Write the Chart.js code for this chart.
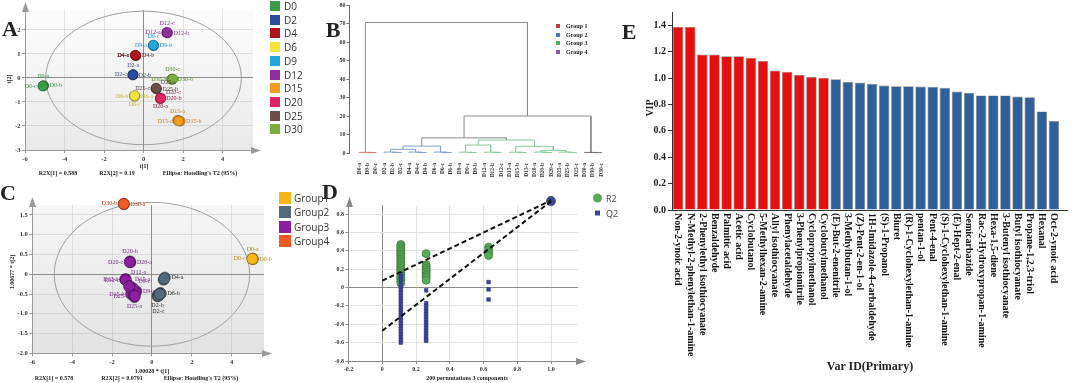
<!DOCTYPE html>
<html><head><meta charset="utf-8">
<script src="https://cdn.jsdelivr.net/npm/chart.js@4.4.1/dist/chart.umd.min.js"></script>
<style>
html,body{margin:0;padding:0;background:#fff;}
#wrap{position:relative;width:1080px;height:383px;overflow:hidden;}
canvas{position:absolute;}
.t{position:absolute;white-space:nowrap;font-family:'Liberation Serif','Times New Roman',serif;font-weight:bold;color:#222;line-height:1;transform:translate(-50%,-50%);}
.r{transform:translate(-50%,-50%) rotate(-90deg);}
.tl{position:absolute;white-space:nowrap;font-family:'Liberation Serif','Times New Roman',serif;font-weight:bold;color:#222;line-height:1;transform:translateY(-50%);}
.s{position:absolute;white-space:nowrap;font-family:'Open Sans','Noto Sans',sans-serif;color:#333;line-height:1;transform:translateY(-50%);}
.sq{position:absolute;transform:translateY(-50%);}
</style></head><body><div id="wrap">
<canvas id="cA" width="262" height="185" style="left:0px;top:0px"></canvas>
<canvas id="cB" width="300" height="190" style="left:310px;top:0px"></canvas>
<canvas id="cC" width="278" height="195" style="left:0px;top:188px"></canvas>
<canvas id="cD" width="272" height="195" style="left:318px;top:188px"></canvas>
<canvas id="cE" width="460" height="383" style="left:620px;top:0px"></canvas>

<div class="t" style="left:10px;top:29px;font-size:22px">A</div>
<div class="t r" style="left:9px;top:79px;font-size:6px">t[2]</div>
<div class="t" style="left:144px;top:166px;font-size:6px">t[1]</div>
<div class="t" style="left:58px;top:173px;font-size:6px">R2X[1] = 0.588</div>
<div class="t" style="left:117px;top:173px;font-size:6px">R2X[2] = 0.19</div>
<div class="t" style="left:200px;top:173px;font-size:6px">Ellipse: Hotelling's T2 (95%)</div>

<div class="t" style="left:333px;top:30px;font-size:22px">B</div>

<div class="t" style="left:8px;top:193px;font-size:22px">C</div>
<div class="t r" style="left:12px;top:272px;font-size:6px">1.00677 * t[2]</div>
<div class="t" style="left:152px;top:371px;font-size:6px">1.00028 * t[1]</div>
<div class="t" style="left:54px;top:378px;font-size:6px">R2X[1] = 0.578</div>
<div class="t" style="left:122px;top:378px;font-size:6px">R2X[2] = 0.0791</div>
<div class="t" style="left:201px;top:378px;font-size:6px">Ellipse: Hotelling's T2 (95%)</div>

<div class="t" style="left:330px;top:192px;font-size:22px">D</div>
<div class="t" style="left:467px;top:378px;font-size:6px">200 permutations 3 components</div>

<div class="t" style="left:629px;top:32px;font-size:22px">E</div>
<div class="t r" style="left:650px;top:108px;font-size:10px">VIP</div>
<div class="t" style="left:870px;top:366px;font-size:12px">Var ID(Primary)</div>
</div>
<script>
const serif = "'Liberation Serif','Times New Roman',serif";

// ---------- Panel A : PCA scores ----------
const groupsA = ['D0','D2','D4','D6','D9','D12','D15','D20','D25','D30'];
const replicates = ['a','b','c'];
const t1A = [[-5.08,-5.05,-5.10],[-0.52,-0.55,-0.54],[-0.42,-0.38,-0.41],[-0.43,-0.47,-0.45],[0.48,0.52,0.50],
             [1.17,1.22,1.19],[1.72,1.85,1.78],[0.86,0.84,0.88],[0.62,0.66,0.64],[1.45,1.42,1.48]];
const t2A = [[-0.33,-0.32,-0.34],[0.14,0.12,0.13],[0.94,0.93,0.95],[-0.75,-0.76,-0.74],[1.35,1.34,1.37],
             [1.88,1.87,1.90],[-1.76,-1.80,-1.79],[-0.83,-0.87,-0.85],[-0.44,-0.46,-0.42],[-0.05,-0.06,-0.04]];
const ellipseA = [4.95, 2.78];

// ---------- Panel B : dendrogram ----------
const leafNames = ['D0-a','D0-b','D0-c','D2-a','D2-b','D2-c','D4-a','D4-c','D4-b','D6-a','D6-c','D6-b',
  'D9-a','D9-c','D9-b','D12-a','D12-b','D12-c','D15-a','D15-b','D15-c','D20-a','D20-b','D20-c',
  'D25-a','D25-b','D25-c','D30-a','D30-b','D30-c'];
const leafGroup = [1,1,1,2,2,2,2,2,2,2,2,2,3,3,3,3,3,3,3,3,3,3,3,3,3,3,3,4,4,4];
// [childA, childB, height] ; children < 30 are leaves, others are earlier merges (30 + k)
const merges = [[1,2,0.25],[0,30,0.35],[4,5,0.3],[3,32,0.5],[7,8,0.3],[6,34,0.5],[10,11,0.3],[9,36,0.5],
  [33,35,2.0],[38,37,3.75],[13,14,0.3],[12,40,0.45],[16,17,0.3],[15,42,0.45],[41,43,4.3],
  [19,20,0.3],[18,45,0.45],[22,23,0.3],[21,47,0.5],[25,26,0.3],[24,49,0.5],[48,50,1.4],[46,51,3.6],
  [44,52,7.0],[39,53,8.2],[28,29,0.2],[27,55,0.3],[54,56,20.0],[31,57,70.5]];
const groupNamesB = ['Group 1','Group 2','Group 3','Group 4'];

// ---------- Panel C : PCA scores (grouped) ----------
const groupNamesC = ['Group1','Group2','Group3','Group4'];
const samplesC = ['D0-a','D0-b','D0-c','D2-a','D2-b','D2-c','D4-a','D4-b','D4-c','D6-a','D6-b','D6-c',
  'D9-a','D9-b','D9-c','D12-a','D12-b','D12-c','D15-a','D15-b','D15-c','D20-a','D20-b','D20-c',
  'D25-a','D25-b','D25-c','D30-a','D30-b','D30-c'];
const t1C = [5.05,5.07,5.03, 0.30,0.28,0.32, 0.65,0.58,0.62, 0.42,0.45,0.38, -0.78,-0.82,-0.95,
  -1.32,-1.35,-1.30, -1.12,-1.05,-1.15, -1.08,-1.10,-1.12, -0.88,-0.90,-0.85, -1.40,-1.42,-1.41];
const t2C = [0.40,0.38,0.39, -0.52,-0.56,-0.55, -0.08,-0.14,-0.11, -0.47,-0.49,-0.50, -0.43,-0.45,-0.35,
  -0.12,-0.13,-0.15, -0.29,-0.50,-0.31, 0.30,0.33,0.31, -0.58,-0.54,-0.55, 1.77,1.79,1.78];
const groupC = [1,1,1, 2,2,2, 2,2,2, 2,2,2, 3,3,3, 3,3,3, 3,3,3, 3,3,3, 3,3,3, 4,4,4];
const ellipseC = [4.9, 1.82];

// ---------- Panel D : permutation test ----------
const permCorr = [0.11, 0.26, 0.63, 1];
const r2Perm = [[0.47,0.45,0.43,0.41,0.39,0.37,0.35,0.33,0.31,0.29,0.27,0.25,0.23,0.21,0.19,0.17,0.15,0.13,0.11,0.09,0.07,0.05],
                [0.37,0.25,0.23,0.21,0.19,0.17,0.15,0.13,0.11,0.08],
                [0.44,0.41,0.38,0.35],
                [0.95]];
const q2Perm = [[0.15,0.12,0.09,0.06,0.03,0.0,-0.03,-0.06,-0.09,-0.12,-0.15,-0.18,-0.21,-0.24,-0.27,-0.30,-0.33,-0.36,-0.39,-0.42,-0.45,-0.48,-0.51,-0.54,-0.57,-0.60],
                [-0.03,-0.17,-0.20,-0.23,-0.26,-0.29,-0.32,-0.35,-0.38,-0.41,-0.44,-0.47,-0.50,-0.53,-0.56,-0.58],
                [0.06,-0.02,-0.13],
                [0.94]];
const r2Fit = [0.075, 0.95];   // intercept at 0, value at 1
const q2Fit = [-0.47, 0.94];

// ---------- Panel E : VIP ----------
const vipNames = ['Non-2-ynoic acid','N-Methyl-2-phenylethan-1-amine','2-Phenylethyl isothiocyanate','Benzaldehyde',
  'Palmitic acid','Acetic acid','Cyclobutanol','5-Methylhexan-2-amine','Allyl isothiocyanate','Phenylacetaldehyde',
  '3-Phenylpropionitrile','Cyclopropylmethanol','Cyclobutylmethanol','(E)-But-2-enenitrile','3-Methylbutan-1-ol',
  '(Z)-Pent-2-en-1-ol','1H-Imidazole-4-carbaldehyde','(S)-1-Propanol','Biuret','(R)-1-Cyclohexylethan-1-amine',
  'pentan-1-ol','Pent-4-enal','(S)-1-Cyclohexylethan-1-amine','(E)-Hept-2-enal','Semicarbazide',
  'Rac-2-Hydroxypropan-1-amine','Hexa-1,5-diene','3-Butenyl isothiocyanate','Butyl isothiocyanate',
  'Propane-1,2,3-triol','Hexanal','Oct-2-ynoic acid'];
const vipValues = [1.387,1.387,1.178,1.178,1.165,1.165,1.153,1.128,1.057,1.047,1.024,1.007,1.001,0.991,0.969,0.966,
  0.956,0.943,0.938,0.938,0.936,0.933,0.926,0.898,0.888,0.868,0.868,0.868,0.860,0.855,0.747,0.674];

// ---------- styles ----------
const colorsA = ['#3c9b47','#2d4b9e','#b0141c','#f2e43a','#25a6df','#8e2ca2','#f39a1f','#de2461','#6b4f46','#7cad3c'];
const textColorsA = ['#3a8a45','#3a4f8a','#4a1010','#c9b72a','#2a8fc0','#7a2a8a','#c77a1a','#8a2040','#4a3a33','#5d8a2c'];
const placeA = {'D0-a':'t','D0-b':'r','D0-c':'l','D2-a':'t','D2-b':'r','D2-c':'l','D4-a':'l','D4-b':'r','D4-c':'l',
  'D6-a':'r','D6-b':'l','D6-c':'b','D9-a':'l','D9-b':'r','D9-c':'t','D12-a':'l','D12-b':'r','D12-c':'t',
  'D15-a':'t','D15-b':'r','D15-c':'l','D20-a':'b','D20-b':'r','D20-c':'tr','D25-a':'tr','D25-b':'r','D25-c':'l',
  'D30-a':'l','D30-b':'r','D30-c':'t'};
const colorsB = ['#c23b3b','#4a78b0','#4daa5a','#7d5ca6'];
const linkColorsB = ['#e07070','#7f9fd6','#86c99a','#707070'];
const colorsC = ['#f6b716','#52697a','#8b1fa0','#ef5a25'];
const textColorsC = ['#b58a10','#2a2a2a','#6a2a7a','#b03a1a'];
const placeC = {'D0-a':'t','D0-b':'r','D0-c':'l','D2-b':'b','D2-c':'bb','D4-a':'r','D6-b':'r',
  'D9-a':'r','D9-c':'tr','D12-a':'tr','D12-b':'l','D12-c':'l','D15-a':'tr','D15-b':'l',
  'D20-a':'r','D20-b':'t','D20-c':'l','D25-a':'b','D25-c':'l','D30-a':'r','D30-b':'l'};

const fixW = w => s => { s.width = w; };
const fixH = h => s => { s.height = h; };
const tickFont = size => ({family: serif, size: size, weight: 'bold'});
const base = {responsive:false, animation:false, devicePixelRatio:1, events:[]};

const bgPlugin = {id:'bg', beforeDraw(c, a, o){
  if(!o.top) return; const ar=c.chartArea, ctx=c.ctx;
  const g=ctx.createLinearGradient(0,ar.top,0,ar.bottom); g.addColorStop(0,o.top); g.addColorStop(1,o.bottom);
  ctx.save(); ctx.fillStyle=g; ctx.fillRect(ar.left,ar.top,ar.right-ar.left,ar.bottom-ar.top); ctx.restore();
}};
const ellipsePlugin = {id:'ellipse', beforeDatasetsDraw(c, a, o){
  const x=c.scales.x, y=c.scales.y, ctx=c.ctx;
  const cx=x.getPixelForValue(0), cy=y.getPixelForValue(0);
  const rx=x.getPixelForValue(o.r[0])-cx, ry=cy-y.getPixelForValue(o.r[1]);
  ctx.save(); ctx.strokeStyle=o.color||'#a0a0a0'; ctx.lineWidth=1;
  ctx.beginPath(); ctx.ellipse(cx,cy,rx,ry,0,0,Math.PI*2); ctx.stroke(); ctx.restore();
}};
const arrowPlugin = {id:'arrows', afterDraw(c, a, o){
  const ar=c.chartArea, ctx=c.ctx, col=o.color||'#999';
  const L=Math.round(ar.left)+0.5, B=Math.round(ar.bottom)+0.5;
  ctx.save(); ctx.strokeStyle=col; ctx.fillStyle=col; ctx.lineWidth=1;
  ctx.beginPath(); ctx.moveTo(L,ar.top); ctx.lineTo(L,ar.top-6); ctx.stroke();
  ctx.beginPath(); ctx.moveTo(L,ar.top-8); ctx.lineTo(L-3.5,ar.top+2); ctx.lineTo(L+3.5,ar.top+2); ctx.closePath(); ctx.fill();
  ctx.beginPath(); ctx.moveTo(ar.right,B); ctx.lineTo(ar.right+6,B); ctx.stroke();
  ctx.beginPath(); ctx.moveTo(ar.right+8,B); ctx.lineTo(ar.right-2,B-3.5); ctx.lineTo(ar.right-2,B+3.5); ctx.closePath(); ctx.fill();
  ctx.restore();
}};
const labelPlugin = {id:'ptLabels', afterDatasetsDraw(c, a, o){
  const ctx=c.ctx; ctx.save(); ctx.font=(o.size||6)+'px '+serif; ctx.textBaseline='middle';
  c.data.datasets.forEach((ds,di)=>{
    const meta=c.getDatasetMeta(di);
    meta.data.forEach((el,j)=>{
      const p=o.place[ds.data[j].name]; if(!p) return;
      const r=ds.pointRadius+1; let x=el.x, y=el.y, al='center';
      if(p==='l'){x-=r; al='right';}
      else if(p==='r'){x+=r; al='left';}
      else if(p==='t'){y-=r+3;}
      else if(p==='b'){y+=r+3;}
      else if(p==='bb'){y+=r+9;}
      else if(p==='tr'){x+=r-1; y-=r; al='left';}
      ctx.fillStyle=ds.labelColor; ctx.textAlign=al; ctx.fillText(ds.data[j].name,x,y);
    });
  });
  ctx.restore();
}};
const zeroGrid = c => (c.tick && Math.abs(c.tick.value)<1e-9) ? '#8d8d8d' : 'rgba(170,170,170,0.3)';

// ---------- Chart A ----------
new Chart(document.getElementById('cA'), {
  type:'scatter',
  data:{datasets: groupsA.map((g,i)=>({label:g,
    data:t1A[i].map((x,j)=>({x:x, y:t2A[i][j], name:g+'-'+replicates[j]})),
    backgroundColor:colorsA[i], borderColor:'rgba(0,0,0,0.35)', borderWidth:0.8, pointRadius:5,
    labelColor:textColorsA[i], clip:false}))},
  options:Object.assign({}, base, {
    layout:{padding:{left:0,top:10,right:9,bottom:0}},
    plugins:{legend:{display:false}, tooltip:{enabled:false},
      bg:{top:'#fcfcfc',bottom:'#e9e9e9'}, ellipse:{r:ellipseA}, arrows:{color:'#9a9a9a'},
      ptLabels:{place:placeA,size:6}},
    scales:{
      x:{type:'linear',min:-6,max:5.54,afterFit:fixH(35),
         ticks:{stepSize:2,includeBounds:false,font:tickFont(6.5),color:'#333',padding:2,maxRotation:0},
         grid:{color:zeroGrid,tickColor:'#999',tickLength:3},border:{color:'#999'}},
      y:{type:'linear',min:-3,max:2.83,afterFit:fixW(25),
         ticks:{stepSize:1,includeBounds:false,font:tickFont(6.5),color:'#333',padding:1.5},
         grid:{color:zeroGrid,tickColor:'#999',tickLength:3},border:{color:'#999'}}
    }}),
  plugins:[bgPlugin, ellipsePlugin, labelPlugin, arrowPlugin]
});

// ---------- Chart B ----------
const nodeX = leafNames.map((_,i)=>i), nodeH = leafNames.map(()=>0), nodeG = leafGroup.slice();
const linkDs = [];
merges.forEach(([a,b,h])=>{
  const g = nodeG[a]===nodeG[b] ? nodeG[a] : 0;
  linkDs.push({data:[{x:nodeX[a],y:nodeH[a]},{x:nodeX[a],y:h},{x:nodeX[b],y:h},{x:nodeX[b],y:nodeH[b]}],
    showLine:true, pointRadius:0, borderColor: g ? linkColorsB[g-1] : '#8a8a8a', borderWidth:1, clip:false});
  nodeX.push((nodeX[a]+nodeX[b])/2); nodeH.push(h); nodeG.push(g);
});
new Chart(document.getElementById('cB'), {
  type:'scatter',
  data:{datasets:linkDs},
  options:Object.assign({}, base, {
    layout:{padding:{left:0,top:5,right:2,bottom:0}},
    plugins:{legend:{display:false}, tooltip:{enabled:false}},
    scales:{
      x:{type:'linear',min:-1.15,max:29.6,afterFit:fixH(37),
         afterBuildTicks:s=>{ s.ticks = leafNames.map((_,i)=>({value:i})); },
         ticks:{autoSkip:false,minRotation:90,maxRotation:90,padding:2,font:tickFont(5.5),color:'#333',
                callback:v=>leafNames[v]},
         grid:{display:false},border:{display:false}},
      y:{type:'linear',min:0,max:80,afterFit:fixW(39.5),
         ticks:{stepSize:10,font:tickFont(6),color:'#333',padding:1},
         grid:{drawOnChartArea:false,tickLength:3,tickColor:'#666'},border:{color:'#666'}}
    }})
});

// ---------- Chart C ----------
new Chart(document.getElementById('cC'), {
  type:'scatter',
  data:{datasets: groupNamesC.map((g,gi)=>({label:g,
    data:samplesC.map((n,k)=>({x:t1C[k], y:t2C[k], name:n, g:groupC[k]})).filter(p=>p.g===gi+1),
    backgroundColor:colorsC[gi], borderColor:'rgba(0,0,0,0.4)', borderWidth:0.8, pointRadius:5.5,
    labelColor:textColorsC[gi], clip:false}))},
  options:Object.assign({}, base, {
    layout:{padding:{left:0,top:17,right:14,bottom:0}},
    plugins:{legend:{display:false}, tooltip:{enabled:false},
      bg:{top:'#f6f6f6',bottom:'#e2e2e2'}, ellipse:{r:ellipseC}, arrows:{color:'#9a9a9a'},
      ptLabels:{place:placeC,size:6}},
    scales:{
      x:{type:'linear',min:-6,max:5.62,afterFit:fixH(29.7),
         ticks:{stepSize:2,includeBounds:false,font:tickFont(6.5),color:'#333',padding:2,maxRotation:0},
         grid:{color:zeroGrid,tickColor:'#999',tickLength:3},border:{color:'#999'}},
      y:{type:'linear',min:-2,max:1.753,afterFit:fixW(32.3),
         ticks:{stepSize:0.5,includeBounds:false,font:tickFont(6.5),color:'#333',padding:1.5},
         grid:{color:zeroGrid,tickColor:'#999',tickLength:3},border:{color:'#999'}}
    }}),
  plugins:[bgPlugin, ellipsePlugin, labelPlugin, arrowPlugin]
});

// ---------- Chart D ----------
const toPts = vals => permCorr.flatMap((x,i)=>vals[i].map(y=>({x:x,y:y})));
const gridD = c => (c.tick && Math.abs(c.tick.value)<1e-9) ? '#8a8a8a' : '#e2e2e2';
new Chart(document.getElementById('cD'), {
  type:'scatter',
  data:{datasets:[
    {label:'R2 fit',data:[{x:0,y:r2Fit[0]},{x:1,y:r2Fit[1]}],showLine:true,borderColor:'#111',borderDash:[5,3],borderWidth:2,pointRadius:0,order:0,clip:false},
    {label:'Q2 fit',data:[{x:0,y:q2Fit[0]},{x:1,y:q2Fit[1]}],showLine:true,borderColor:'#111',borderDash:[5,3],borderWidth:2,pointRadius:0,order:0,clip:false},
    {label:'R2',data:toPts(r2Perm),backgroundColor:'#58a958',borderColor:'#3f7f3f',borderWidth:0.8,pointRadius:4,order:2,clip:false},
    {label:'Q2',data:toPts(q2Perm),
     pointStyle:c=>(c.raw&&c.raw.x===1)?'circle':'rect',
     pointRadius:c=>(c.raw&&c.raw.x===1)?4.5:2.6,
     backgroundColor:'#3b4499',borderColor:'#2b3380',borderWidth:0.5,order:1,clip:false}
  ]},
  options:Object.assign({}, base, {
    layout:{padding:{left:0,top:17,right:12,bottom:0}},
    plugins:{legend:{display:false}, tooltip:{enabled:false}, arrows:{color:'#8a8a8a'}},
    scales:{
      x:{type:'linear',min:-0.2,max:1.16,afterFit:fixH(22),
         afterBuildTicks:s=>{ s.ticks = s.ticks.filter(t=>t.value<=1.0001); },
         ticks:{stepSize:0.2,includeBounds:false,font:tickFont(6),color:'#333',padding:2,maxRotation:0},
         grid:{color:gridD,tickColor:'#888',tickLength:3},border:{color:'#888'}},
      y:{type:'linear',min:-0.8,max:0.9,afterFit:fixW(30.5),
         ticks:{stepSize:0.2,includeBounds:false,font:tickFont(6),color:'#333',padding:1.5},
         grid:{color:gridD,tickColor:'#888',tickLength:3},border:{color:'#888'}}
    }}),
  plugins:[arrowPlugin]
});

// ---------- Chart E ----------
const vertLabels = {id:'vertLabels', afterDraw(c){
  const xs=c.scales.x, ar=c.chartArea, ctx=c.ctx;
  ctx.save(); ctx.font='bold 10px '+serif; ctx.fillStyle='#111'; ctx.textAlign='left'; ctx.textBaseline='middle';
  c.data.labels.forEach((lab,i)=>{
    const x=xs.getPixelForValue(i);
    ctx.save(); ctx.translate(x,ar.bottom+3); ctx.rotate(Math.PI/2); ctx.fillText(lab,0,0); ctx.restore();
  });
  ctx.strokeStyle='#333'; ctx.lineWidth=1; ctx.beginPath();
  ctx.moveTo(ar.right, Math.round(ar.bottom)+0.5); ctx.lineTo(ar.right+8, Math.round(ar.bottom)+0.5); ctx.stroke();
  ctx.restore();
}};
new Chart(document.getElementById('cE'), {
  type:'bar',
  data:{labels:vipNames, datasets:[{data:vipValues,
    backgroundColor:vipValues.map(v=>v>=1?'#e50f10':'#30609a'),
    borderColor:'rgba(40,20,20,0.55)',borderWidth:0.7,barPercentage:0.86,categoryPercentage:1}]},
  options:Object.assign({}, base, {
    layout:{padding:{left:0,top:12,right:20,bottom:0}},
    plugins:{legend:{display:false}, tooltip:{enabled:false}},
    scales:{
      x:{afterFit:fixH(173),ticks:{display:false},grid:{display:false},border:{color:'#333'}},
      y:{min:0,max:1.5,afterFit:fixW(52),
         ticks:{stepSize:0.2,includeBounds:false,font:tickFont(10),color:'#222',padding:2,callback:v=>v.toFixed(1)},
         grid:{drawOnChartArea:false,tickLength:4,tickColor:'#333'},border:{color:'#333'}}
    }}),
  plugins:[vertLabels]
});

// ---------- HTML legends ----------
const wrap = document.getElementById('wrap');
function addEl(cls, css, text){ const d=document.createElement('div'); d.className=cls; d.style.cssText=css; if(text!=null) d.textContent=text; wrap.appendChild(d); return d; }
groupsA.forEach((g,i)=>{ const y=6+i*13.7;
  addEl('sq',`left:270px;top:${y}px;width:10px;height:10px;background:${colorsA[i]}`);
  addEl('s',`left:284px;top:${y}px;font-size:10px`,g); });
groupNamesB.forEach((g,i)=>{ const y=26+i*8.5;
  addEl('sq',`left:556px;top:${y}px;width:4px;height:4px;background:${colorsB[i]}`);
  addEl('tl',`left:566px;top:${y}px;font-size:6px`,g); });
groupNamesC.forEach((g,i)=>{ const y=197.5+i*14.6;
  addEl('sq',`left:279px;top:${y}px;width:12px;height:12px;background:${colorsC[i]}`);
  addEl('s',`left:294px;top:${y}px;font-size:10px`,g); });
addEl('sq','left:593px;top:198px;width:9px;height:9px;border-radius:50%;background:#58a958');
addEl('s','left:606px;top:198px;font-size:9px;color:#444','R2');
addEl('sq','left:595px;top:213px;width:5px;height:5px;background:#3b4499');
addEl('s','left:606px;top:213px;font-size:9px;color:#444','Q2');
</script>
</body></html>
